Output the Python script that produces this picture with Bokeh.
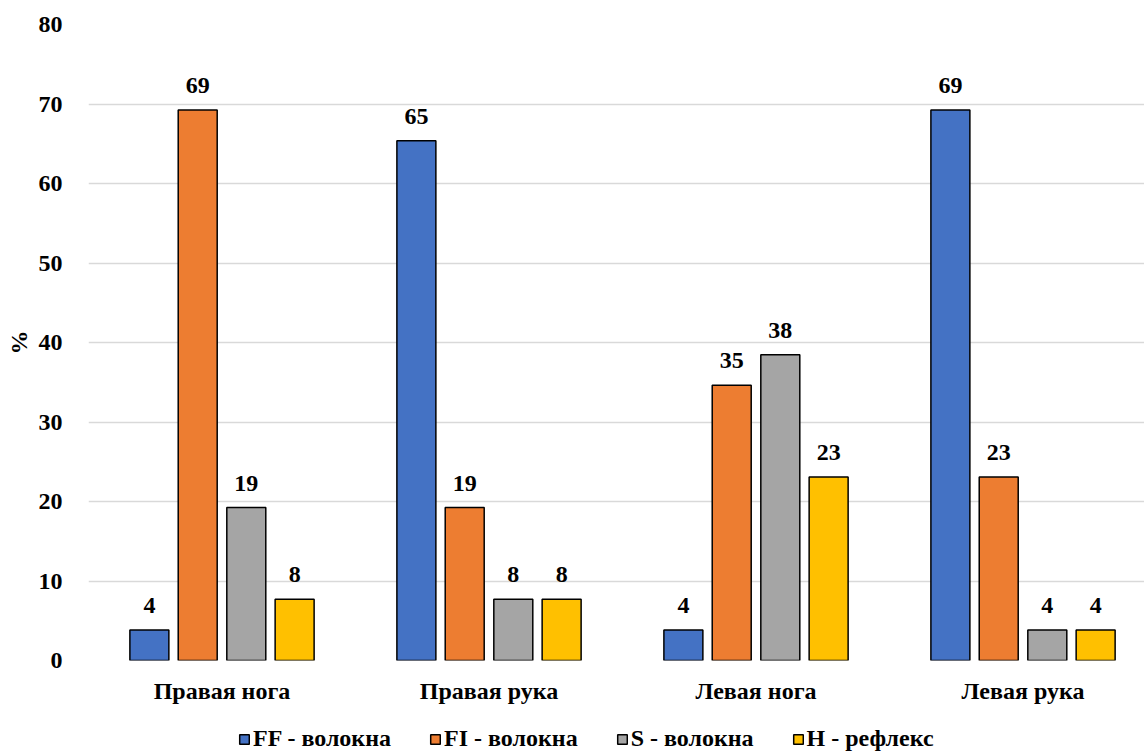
import numpy as np
from bokeh.plotting import figure
from bokeh.layouts import column
from bokeh.models import ColumnDataSource, Range1d, FixedTicker, Legend, LegendItem, LabelSet
from bokeh.embed import file_html
from bokeh.resources import INLINE

categories = ["Правая нога", "Правая рука", "Левая нога", "Левая рука"]
series_names = ["FF - волокна", "FI - волокна", "S - волокна", "H - рефлекс"]
ff = [3.85, 65.38, 3.85, 69.23]
fi = [69.23, 19.23, 34.62, 23.08]
s_fib = [19.23, 7.69, 38.46, 3.85]
h_ref = [7.69, 7.69, 23.08, 3.85]
y_ticks = [0, 10, 20, 30, 40, 50, 60, 70, 80]

colors = ["#4472C4", "#ED7D31", "#A5A5A5", "#FFC000"]
offsets = [-0.272, -0.091, 0.091, 0.272]
FONT = "Liberation Serif"
FS = "24px"

p = figure(width=1144, height=715, output_backend="svg", toolbar_location=None,
           x_range=Range1d(-0.5, 3.455), y_range=Range1d(0, 80),
           min_border_left=88, min_border_right=0, min_border_top=24, min_border_bottom=55)
p.outline_line_color = None
p.background_fill_color = "white"
p.border_fill_color = "white"

for name, vals, col, off in zip(series_names, [ff, fi, s_fib, h_ref], colors, offsets):
    xs = [i + off for i in range(len(categories))]
    src = ColumnDataSource(dict(x=xs, top=vals, lbl=["%.0f" % v for v in vals]))
    p.vbar(x="x", top="top", width=0.146, source=src, fill_color=col,
           line_color="black", line_width=1.5)
    labels = LabelSet(x="x", y="top", text="lbl", source=src, text_align="center",
                      text_baseline="bottom", y_offset=17, text_font=FONT,
                      text_font_style="bold", text_font_size=FS, text_color="black")
    p.add_layout(labels)

# x axis: category names under each group
p.xaxis.ticker = FixedTicker(ticks=list(range(len(categories))))
p.xaxis.major_label_overrides = {i: c for i, c in enumerate(categories)}
p.xaxis.axis_line_color = None
p.xaxis.major_tick_line_color = None
p.xaxis.minor_tick_line_color = None
p.xaxis.major_label_standoff = 11
p.xaxis.major_label_text_font = FONT
p.xaxis.major_label_text_font_style = "bold"
p.xaxis.major_label_text_font_size = FS
p.xaxis.major_label_text_color = "black"

p.yaxis.ticker = FixedTicker(ticks=y_ticks)
p.yaxis.axis_line_color = None
p.yaxis.major_tick_line_color = None
p.yaxis.minor_tick_line_color = None
p.yaxis.major_label_standoff = 20
p.yaxis.major_label_text_font = FONT
p.yaxis.major_label_text_font_style = "bold"
p.yaxis.major_label_text_font_size = FS
p.yaxis.major_label_text_color = "black"
p.yaxis.axis_label = "%"
p.yaxis.axis_label_text_font = FONT
p.yaxis.axis_label_text_font_style = "bold"
p.yaxis.axis_label_text_font_size = "24px"
p.yaxis.axis_label_text_color = "black"
p.yaxis.axis_label_standoff = 4

p.xgrid.grid_line_color = None
p.ygrid.ticker = FixedTicker(ticks=y_ticks)
p.ygrid.grid_line_color = "#d9d9d9"
p.ygrid.grid_line_width = 1.5

# legend strip under the chart; the swatch renderers hold no visible data
leg = figure(width=1144, height=36, output_backend="svg", toolbar_location=None,
             x_axis_location=None, y_axis_location=None,
             x_range=Range1d(0, 1), y_range=Range1d(0, 1),
             min_border_left=0, min_border_right=0, min_border_top=0, min_border_bottom=0)
leg.outline_line_color = None
leg.xgrid.visible = False
leg.ygrid.visible = False
items = []
for name, col in zip(series_names, colors):
    sw = leg.vbar(x=np.array([np.nan]), top=np.array([np.nan]), width=0.1,
                  fill_color=col, line_color="black", line_width=1.5)
    items.append(LegendItem(label=name, renderers=[sw]))
legend = Legend(items=items, orientation="horizontal", location=(150, -1),
                padding=0, spacing=38, label_standoff=3, glyph_width=12, glyph_height=12,
                label_height=24, label_text_font=FONT, label_text_font_style="bold",
                label_text_font_size=FS, label_text_color="black",
                background_fill_alpha=0, border_line_color=None)
leg.add_layout(legend)

layout = column(p, leg, spacing=0)
open("out.html", "w").write(file_html(layout, INLINE))
